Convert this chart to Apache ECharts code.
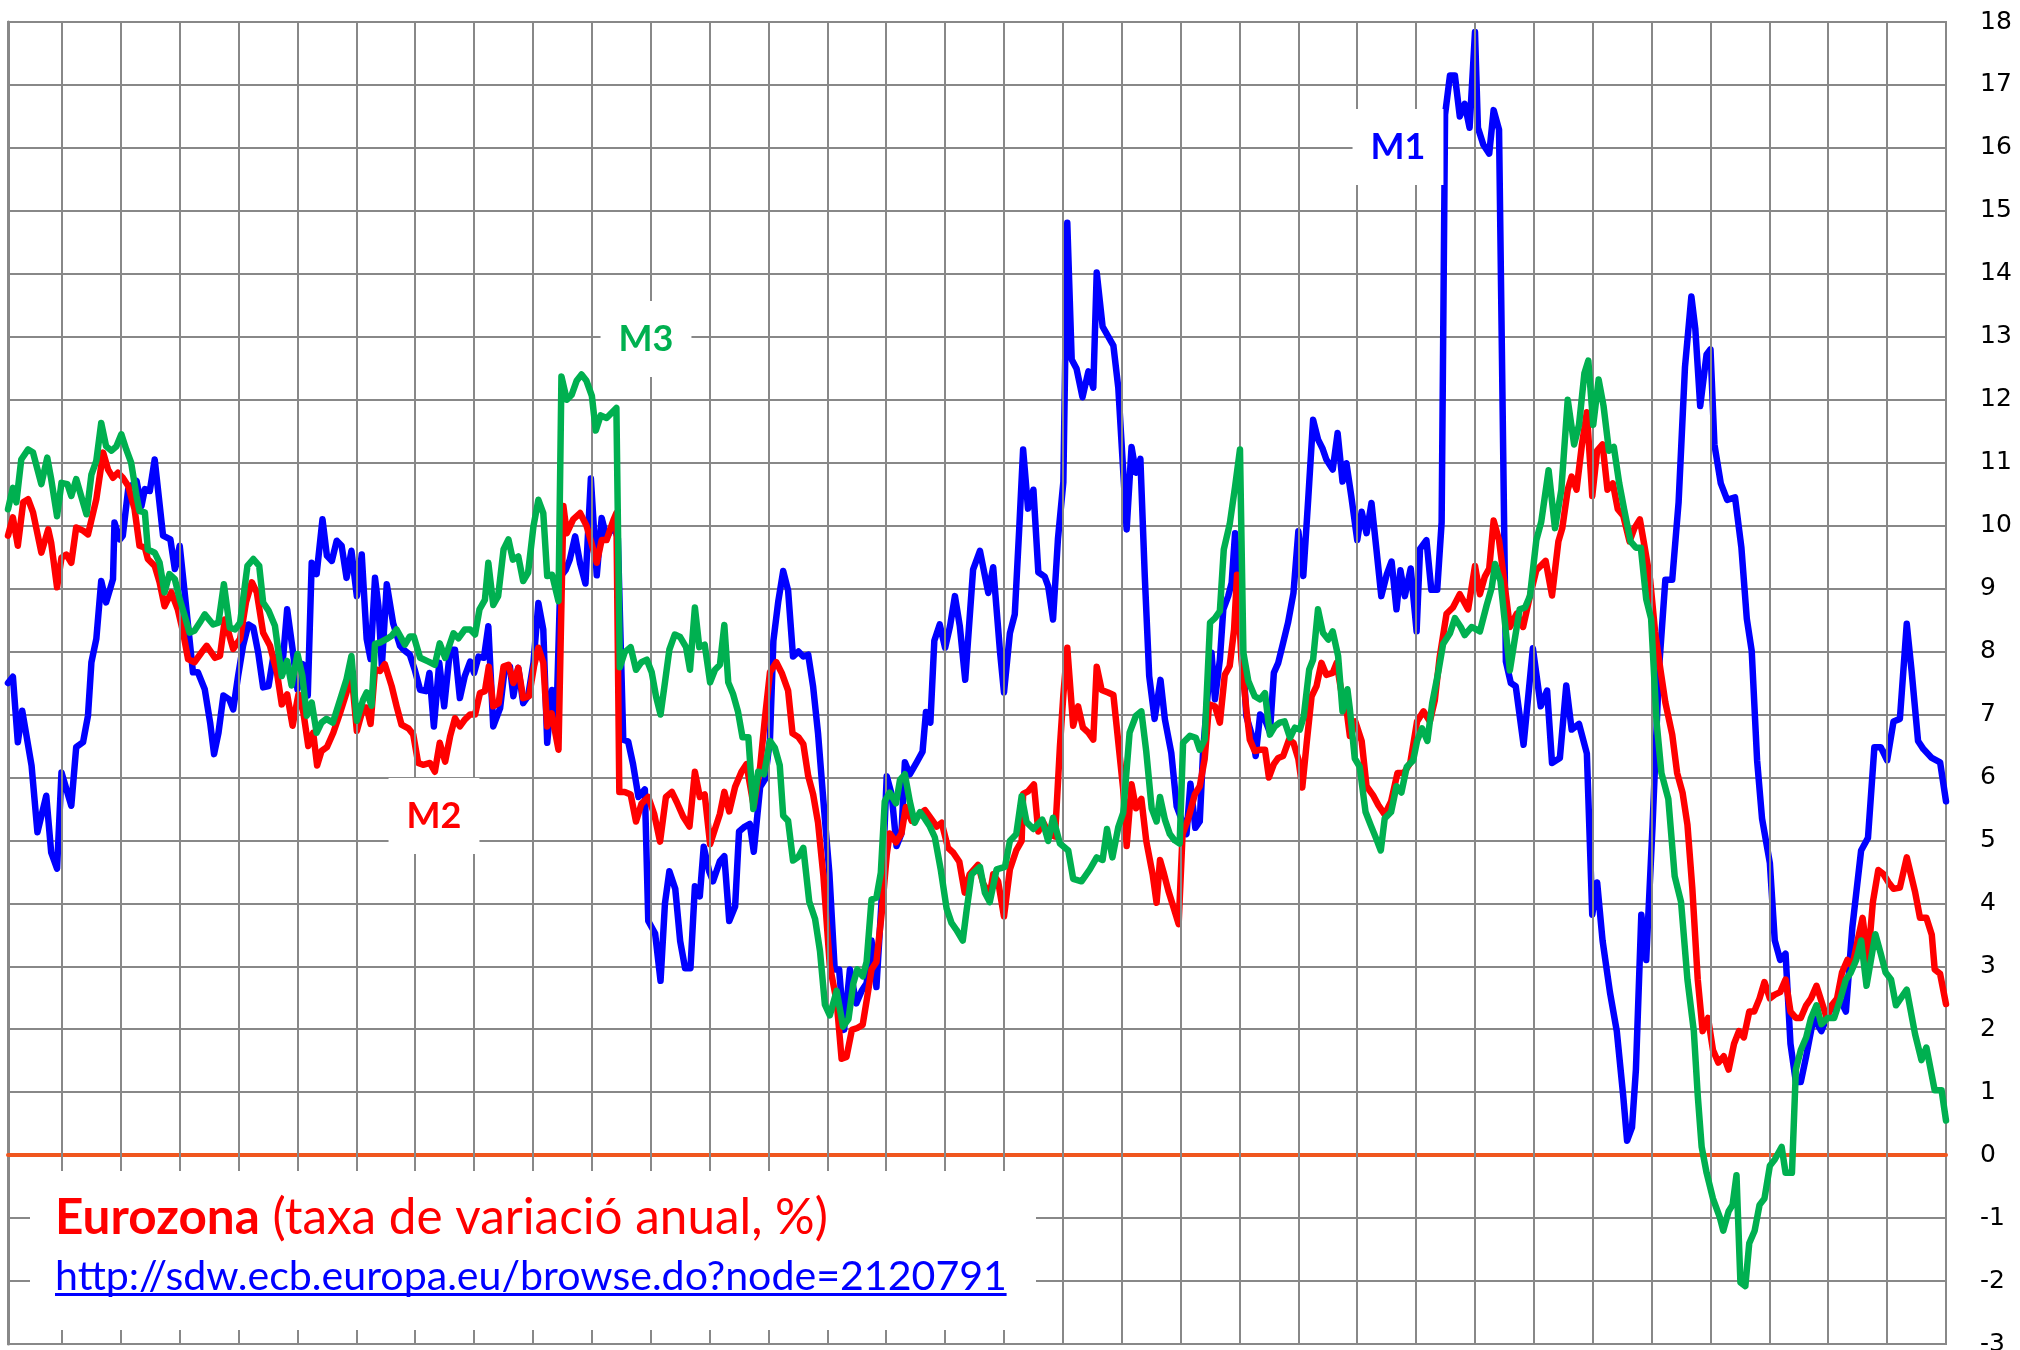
<!DOCTYPE html>
<html><head><meta charset="utf-8">
<script src="https://cdn.jsdelivr.net/npm/echarts/dist/echarts.min.js"></script>
<style>html,body{margin:0;padding:0;background:#fff;overflow:hidden}#c{width:2020px;height:1350px}</style>
</head><body><div id="c"></div>
<script>
// months counted from the first observation; vertical grid every 12 months
const yearTicks = [11,23,35,47,59,71,83,95,107,119,131,143,155,167,179,191,203,215,227,239,251,263,275,287,299,311,323,335,347,359,371,383];

// M1 annual growth rate, [month, %]
const m1Data = [[0,7.5],[1,7.6],[2,6.56],[2.9,7.06],[4.8,6.19],[6,5.13],[7.8,5.71],[8.8,4.81],[10,4.55],[10.9,6.08],[12.9,5.55],[13.9,6.48],[15.3,6.56],[16.3,6.98],[17,7.83],[18,8.2],[19,9.12],[20,8.78],[21.4,9.15],[21.7,10.05],[22.8,9.78],[23.4,9.84],[24.5,10.58],[26.2,10.71],[27.2,10.31],[27.9,10.58],[28.9,10.55],[29.9,11.05],[31.6,9.84],[33.1,9.78],[34,9.31],[35,9.68],[36,8.94],[37.7,7.67],[38.7,7.67],[40.1,7.4],[41.2,6.87],[42,6.37],[42.9,6.71],[43.9,7.3],[45.1,7.24],[45.9,7.08],[46.9,7.61],[47.9,8.09],[49,8.43],[50,8.38],[51,7.98],[52,7.43],[53.1,7.45],[54.1,7.93],[55.1,7.67],[56.1,7.93],[56.9,8.67],[58,8.04],[59,7.4],[60.1,7.8],[61.1,7.3],[61.9,9.41],[62.9,9.23],[64.1,10.1],[65,9.52],[66,9.44],[67,9.76],[68,9.68],[69,9.17],[70,9.6],[71.1,8.88],[72.1,9.54],[73.1,8.2],[73.9,7.88],[74.8,9.17],[75.5,8.72],[76.2,7.77],[77.2,9.07],[78.5,8.45],[79.9,8.09],[80.6,8.03],[81.9,7.95],[82.9,7.71],[84,7.39],[85.2,7.37],[85.9,7.66],[86.8,6.81],[87.9,7.82],[88.9,7.13],[90.1,8.03],[91.1,8.03],[92.1,7.26],[93.1,7.61],[94.2,7.84],[95,7.66],[95.9,7.92],[97,7.9],[97.9,8.4],[98.9,6.81],[100.3,7.1],[101.3,7.76],[102.3,7.76],[103,7.29],[104,7.74],[105,7.18],[106,7.29],[107.1,7.82],[108.1,8.77],[109.1,8.35],[109.9,6.55],[110.9,7.39],[111.8,6.97],[112.6,9.19],[113.7,9.3],[114.5,9.46],[115.6,9.83],[116.6,9.4],[117.7,9.08],[118.8,10.75],[120,9.21],[121,10.12],[122,9.81],[123.4,10.0],[124.3,9.8],[125.4,6.6],[126.4,6.57],[127.4,6.21],[128.5,5.69],[129.8,5.81],[130.5,3.72],[131.9,3.52],[133,2.77],[133.9,4.0],[134.8,4.51],[136,4.23],[137,3.4],[138,2.97],[139.1,2.97],[140,4.27],[141,4.11],[141.8,4.9],[142.9,4.51],[143.7,4.35],[145.1,4.67],[146,4.75],[147,3.72],[148.2,3.95],[149,5.14],[150.2,5.22],[151.2,5.26],[152,4.82],[153.3,5.85],[154.3,5.97],[155.3,6.6],[156,8.17],[157,8.8],[158,9.28],[159,8.97],[160,7.92],[161.1,8.0],[162.1,7.92],[163.1,7.95],[164.1,7.44],[165.1,6.7],[166.2,5.62],[167.4,4.49],[168.5,2.95],[169.4,2.95],[170.4,1.99],[171.6,2.95],[172.9,2.41],[174,2.61],[175,2.73],[176,3.41],[177,2.67],[178,3.97],[179.1,6.02],[180.1,5.73],[181.1,4.91],[182.1,5.11],[182.8,6.24],[183.8,6.05],[185.2,6.24],[186.4,6.41],[187.1,7.04],[188,6.87],[188.8,8.17],[189.9,8.43],[191,8.06],[192,8.4],[193,8.88],[194,8.4],[195.1,7.55],[196.7,9.3],[198.1,9.6],[199.8,8.93],[200.8,9.34],[202.2,7.99],[203,7.35],[204.2,8.29],[205.2,8.59],[206.1,9.94],[206.9,11.21],[207.9,10.27],[209,10.57],[210,9.26],[211.3,9.19],[212,9.04],[213,8.51],[214,9.79],[215.1,10.69],[215.9,14.81],[216.8,12.64],[217.8,12.49],[219,12.04],[220.2,12.45],[221.2,12.19],[221.9,14.02],[223.1,13.16],[224.2,13.01],[225.3,12.86],[226.3,12.19],[228,9.94],[229,11.25],[229.9,10.84],[230.8,11.06],[231.7,9.19],[232.6,7.61],[233.7,6.93],[234.9,7.55],[235.8,6.92],[237.1,6.39],[238.2,5.54],[239.2,5.33],[240.2,5.1],[241,5.9],[242,5.2],[242.9,5.3],[243.6,6.44],[244.6,7.4],[245.3,7.98],[246,7.24],[247,7.87],[247.7,8.67],[248.7,8.88],[249.4,9.09],[250.1,9.88],[250.7,9.25],[252.4,6.97],[253.8,6.6],[254.3,6.34],[255.2,7.0],[256.2,6.92],[257.2,6.71],[258,7.66],[258.9,7.82],[259.9,8.14],[260.9,8.46],[262,8.93],[263,9.91],[264,9.2],[265,10.41],[266,11.68],[267,11.37],[267.9,11.23],[268.7,11.05],[270,10.89],[271,11.47],[272,10.7],[272.8,10.99],[273.8,10.46],[275,9.77],[275.9,10.22],[276.9,9.88],[277.9,10.36],[278.9,9.63],[279.9,8.88],[281,9.22],[282,9.43],[283,8.67],[283.8,9.29],[284.7,8.88],[285.9,9.32],[287.1,8.32],[287.8,9.63],[289.1,9.77],[290.1,8.98],[291.3,8.98],[292.2,10.05],[292.9,16.53],[293.9,17.15],[294.9,17.15],[295.9,16.5],[296.9,16.7],[297.9,16.32],[299,17.84],[299.6,16.32],[300.7,16.05],[301.9,15.91],[302.8,16.6],[303.9,16.29],[305.3,7.84],[306.3,7.5],[307.3,7.45],[308.9,6.52],[310.8,8.05],[312.4,7.13],[313.7,7.38],[314.7,6.23],[316.3,6.31],[317.6,7.46],[318.7,6.76],[320.2,6.85],[321.8,6.38],[322.9,3.82],[323.9,4.33],[325,3.41],[326.5,2.59],[327.9,1.97],[329.2,0.95],[330,0.23],[331,0.44],[331.8,1.36],[332.9,3.82],[333.9,3.1],[335.2,5.25],[336.5,7.71],[337.8,9.14],[339.2,9.14],[340.5,10.37],[341.8,12.52],[343.1,13.64],[343.9,13.13],[344.9,11.9],[346.2,12.72],[347,12.8],[347.8,11.29],[349.1,10.67],[350.4,10.41],[352,10.45],[353.3,9.65],[354.4,8.52],[355.4,8.01],[356.5,6.27],[357.5,5.35],[359.1,4.64],[360.1,3.41],[361.2,3.1],[362.3,3.2],[363.3,1.77],[364.4,1.16],[365.4,1.16],[366.5,1.57],[368,2.18],[369.6,1.97],[371.2,2.28],[373.3,2.49],[374.6,2.28],[375.9,3.61],[377.7,4.84],[379.1,5.04],[380.4,6.48],[381.7,6.48],[383,6.27],[384.3,6.89],[385.6,6.93],[387,8.44],[388,7.68],[389.3,6.58],[390.4,6.45],[392.1,6.31],[393.8,6.24],[395,5.62]];

// M2 annual growth rate, [month, %]
const m2Data = [[0,9.84],[1,10.13],[2,9.68],[3.1,10.37],[4.1,10.42],[5.1,10.21],[6.8,9.57],[8.2,9.94],[8.8,9.73],[10,9.02],[10.9,9.49],[11.9,9.54],[12.9,9.41],[13.9,9.97],[15.3,9.92],[16.3,9.86],[18,10.42],[19.4,11.16],[20.4,10.89],[21.4,10.76],[22.4,10.84],[23.4,10.76],[24.5,10.63],[25.8,10.26],[26.8,9.68],[27.9,9.65],[28.5,9.47],[29.9,9.36],[30.9,9.1],[31.9,8.72],[33.3,8.94],[34.6,8.67],[35.7,8.3],[36.7,7.88],[38,7.83],[39.4,7.98],[40.5,8.09],[42.2,7.9],[43.2,7.93],[44.2,8.51],[45.9,8.04],[47.3,8.2],[48.5,8.78],[49.7,9.1],[50.7,8.94],[52,8.3],[53.4,8.09],[54.8,7.67],[55.8,7.16],[56.9,7.32],[58,6.82],[59.2,7.32],[60.2,7.03],[61.2,6.5],[62.2,6.71],[63,6.19],[63.9,6.42],[65,6.48],[66.3,6.71],[67.7,7.03],[69,7.35],[70,7.67],[71.1,6.74],[72.4,7.11],[73.1,7.11],[73.9,6.85],[74.8,7.72],[75.8,7.69],[76.8,7.8],[78.2,7.45],[79.3,7.1],[80.2,6.84],[81.6,6.78],[82.6,6.68],[83.6,6.23],[84.6,6.2],[86,6.23],[87,6.09],[88,6.55],[89.1,6.25],[90.1,6.65],[91.1,6.94],[92.1,6.81],[93.1,6.92],[94.2,7.0],[95.2,7.0],[96.2,7.34],[97.2,7.37],[98,7.76],[98.9,7.13],[100,7.18],[101,7.76],[102,7.79],[103,7.5],[104,7.74],[105,7.26],[106.2,7.29],[107.2,7.76],[108.1,8.06],[109.1,7.82],[109.9,6.81],[110.8,7.02],[112.2,6.44],[113.2,10.31],[113.9,9.88],[115.2,10.1],[116.6,10.2],[117.9,10.0],[118.9,9.73],[120,9.41],[121,9.77],[122,9.77],[123.4,10.09],[124,10.2],[124.6,5.77],[125.7,5.77],[126.9,5.73],[128,5.3],[129.1,5.58],[130.5,5.69],[131.7,5.42],[132.9,4.98],[134.1,5.69],[135.3,5.77],[136.3,5.61],[137.6,5.38],[138.9,5.22],[140,6.09],[141,5.69],[142,5.73],[143.1,4.94],[144.1,5.18],[145.1,5.42],[146,5.77],[147,5.46],[148.2,5.85],[149.5,6.09],[150.5,6.21],[152,5.54],[153.3,6.17],[154.3,6.96],[155.3,7.67],[156.6,7.83],[157.7,7.66],[159,7.38],[159.9,6.7],[161.1,6.64],[162.1,6.53],[163.1,6.02],[164.1,5.73],[165.1,5.28],[166.2,4.43],[167.5,3.01],[168.9,2.44],[169.9,1.53],[170.9,1.56],[172,1.99],[173.1,2.02],[174.2,2.07],[175.1,2.5],[176,2.95],[177,3.07],[178.1,3.86],[179.1,4.77],[179.7,5.11],[181,4.97],[182.1,5.11],[183,5.53],[184.2,5.31],[185.9,5.42],[186.9,5.48],[188,5.36],[189.3,5.22],[190.3,5.28],[191.6,4.88],[192.7,4.8],[193.9,4.66],[195,4.17],[196,4.46],[197.7,4.61],[198.8,4.31],[200.1,4.13],[200.8,4.46],[201.8,4.35],[203,3.79],[204.2,4.54],[205.5,4.84],[206.6,4.99],[206.9,5.74],[207.9,5.78],[209.1,5.89],[210,5.14],[211,5.29],[212.2,5.1],[213.4,5.06],[214.4,6.49],[215.1,7.31],[215.9,8.06],[217.1,6.82],[218.1,7.13],[219.1,6.79],[220.2,6.71],[221.2,6.6],[221.9,7.76],[222.9,7.39],[224.2,7.35],[225.3,7.31],[225.9,6.86],[227.3,5.81],[228,4.91],[229,5.89],[229.9,5.51],[231,5.66],[232,4.99],[233.3,4.46],[234.1,4.01],[234.8,4.69],[235.5,4.5],[236.5,4.2],[237.5,3.95],[238.6,3.67],[239.4,5.1],[240.5,5.33],[241.9,5.73],[242.9,5.86],[243.9,6.29],[244.8,7.16],[246,7.13],[247,6.87],[248,7.63],[249,7.77],[249.9,8.35],[250.5,9.22],[251.4,7.87],[252.4,7.08],[253.1,6.6],[254.1,6.42],[255.2,6.44],[256.2,6.44],[257,6.0],[258,6.21],[258.9,6.31],[259.9,6.34],[261.1,6.6],[262,6.55],[263,6.29],[263.8,5.84],[264.7,6.55],[265.7,7.29],[266.7,7.45],[267.7,7.82],[268.7,7.63],[270,7.66],[270.8,7.82],[271.8,7.34],[272.8,7.08],[273.5,6.66],[274.6,6.89],[275.9,6.58],[276.9,5.86],[278.2,5.72],[279.3,5.56],[280.6,5.41],[281.9,5.62],[283.2,6.07],[284.5,6.07],[285.8,6.23],[287.2,6.89],[288.5,7.05],[289.8,6.89],[290.8,7.22],[291.8,7.91],[293.2,8.6],[294.5,8.7],[295.9,8.91],[297.6,8.67],[299,9.36],[300,8.91],[301,9.19],[301.9,9.32],[302.8,10.08],[303.9,9.77],[304.9,9.15],[306.1,8.39],[307.5,8.6],[308.8,8.39],[310.2,8.88],[311.5,9.29],[313.4,9.44],[314.7,8.89],[316,9.75],[316.8,9.96],[317.9,10.57],[318.7,10.78],[319.7,10.57],[320.8,11.29],[321.8,11.8],[322.9,10.47],[323.9,11.19],[325,11.29],[326,10.57],[327.1,10.67],[328.1,10.26],[329.2,10.16],[330.5,9.75],[331.5,9.96],[332.6,10.1],[333.6,9.65],[334.7,9.14],[335.7,8.32],[336.8,7.71],[337.8,7.19],[339.2,6.68],[340.2,6.07],[341.3,5.76],[342.3,5.25],[343.3,4.23],[344.4,2.79],[345.4,1.97],[346.5,2.18],[347.5,1.67],[348.6,1.47],[349.7,1.57],[350.7,1.36],[351.8,1.77],[352.8,1.97],[353.8,1.87],[354.9,2.28],[355.9,2.28],[357,2.49],[358,2.75],[359.1,2.49],[360.1,2.55],[361.2,2.59],[362.3,2.79],[363.3,2.28],[364.4,2.18],[365.4,2.18],[366.5,2.38],[367.5,2.49],[368.6,2.69],[370.7,2.18],[371.7,2.38],[372.8,2.49],[373.8,2.9],[374.9,3.1],[375.9,3.0],[377,3.41],[378,3.77],[379.1,3.1],[380.1,4.02],[381.2,4.53],[382.2,4.47],[383.3,4.33],[384.3,4.23],[385.6,4.25],[387,4.73],[388.7,4.18],[389.7,3.77],[391,3.77],[392.1,3.5],[392.7,2.95],[393.8,2.88],[395,2.4]];

// M3 annual growth rate, [month, %]
const m3Data = [[0,10.26],[1,10.6],[1.7,10.37],[2.7,11.05],[4.1,11.21],[5.1,11.16],[6.8,10.66],[8,11.08],[8.8,10.74],[10,10.15],[10.9,10.68],[12.1,10.66],[12.9,10.47],[13.9,10.74],[16,10.18],[17,10.81],[18,11.03],[19,11.63],[20,11.26],[21.1,11.19],[22.1,11.26],[23.1,11.45],[24.1,11.21],[25.1,11.0],[26.2,10.47],[26.8,10.23],[27.9,10.21],[28.5,9.62],[29.9,9.57],[30.9,9.41],[31.9,8.94],[32.9,9.23],[34,9.15],[35,8.83],[36,8.57],[37,8.3],[38,8.33],[39.1,8.46],[40.1,8.59],[41.8,8.43],[42.9,8.46],[44,9.07],[45.2,8.38],[46.3,8.35],[47.3,8.46],[48.8,9.36],[50,9.47],[51.2,9.36],[52,8.78],[53.1,8.65],[54.4,8.41],[55.8,7.61],[56.9,7.85],[57.8,7.46],[59,7.96],[60,7.61],[60.9,6.98],[61.9,7.19],[62.9,6.71],[63.9,6.87],[64.9,6.93],[66.2,6.87],[67.3,7.14],[69,7.56],[70,7.93],[71.1,6.9],[72.4,7.24],[73.1,7.35],[74.1,7.14],[74.8,8.12],[75.8,8.14],[77.2,8.2],[78.2,8.25],[79.2,8.35],[80.9,8.11],[81.9,8.24],[82.7,8.24],[84,7.9],[85.7,7.84],[87,7.79],[88,8.13],[89.1,7.9],[90.8,8.29],[91.8,8.21],[93.1,8.35],[94.2,8.35],[95.2,8.27],[96.1,8.67],[97.2,8.82],[97.9,9.41],[98.9,8.74],[99.9,8.88],[101,9.62],[102,9.78],[102.9,9.46],[104,9.51],[105,9.12],[106,9.25],[107.1,9.99],[108.1,10.41],[109.1,10.2],[109.9,9.2],[110.9,9.22],[112.2,8.8],[112.8,12.37],[113.9,12.0],[114.9,12.08],[115.9,12.3],[116.9,12.4],[117.9,12.3],[119,12.06],[119.8,11.51],[120.8,11.75],[122,11.71],[123,11.79],[124,11.87],[124.7,7.75],[125.7,7.99],[126.9,8.07],[128,7.71],[129.1,7.83],[130.2,7.87],[131.2,7.67],[132.1,7.28],[133,7.0],[133.9,7.51],[134.8,8.03],[135.9,8.27],[137,8.23],[138.2,8.07],[139,7.71],[140,8.7],[140.9,8.07],[142,8.11],[143.1,7.51],[144.1,7.71],[145.1,7.79],[146,8.42],[146.8,7.51],[147.8,7.32],[148.8,7.04],[149.7,6.64],[150.9,6.64],[151.9,5.5],[152.9,6.09],[154.1,6.05],[155.3,6.58],[156.3,6.47],[157.3,6.19],[158,5.39],[159,5.31],[160,4.68],[161.1,4.74],[162.1,4.88],[163.3,4.03],[164.5,3.75],[165.5,3.24],[166.5,2.39],[167.5,2.22],[168.9,2.61],[170.2,2.04],[171.3,2.16],[172.3,2.73],[173.1,2.95],[174.2,2.84],[175,3.07],[176,4.06],[177,4.09],[177.9,4.49],[178.7,5.62],[179.7,5.76],[181,5.59],[181.8,5.96],[182.8,6.05],[183.8,5.62],[184.8,5.28],[185.9,5.45],[186.9,5.34],[187.9,5.22],[188.9,5.05],[190.1,4.54],[191.3,3.92],[192.3,3.69],[193.3,3.58],[194.6,3.41],[195.4,3.9],[196.4,4.46],[198.1,4.58],[199.1,4.17],[200.1,4.02],[201.5,4.54],[203.2,4.58],[204.2,4.99],[205.5,5.1],[206.6,5.7],[207.6,5.29],[209,5.18],[210.8,5.33],[212,4.99],[213,5.36],[214.4,4.95],[216.1,4.84],[217.1,4.39],[218.8,4.35],[220.5,4.54],[221.9,4.73],[223.1,4.69],[224,5.18],[225.1,4.73],[226.3,5.21],[227.3,5.44],[228.6,6.71],[229.9,6.98],[231,7.05],[232,6.41],[233.1,5.51],[234.1,5.3],[234.8,5.69],[235.8,5.33],[236.8,5.1],[237.8,5.0],[238.8,4.95],[239.5,6.55],[240.9,6.66],[242.1,6.63],[242.9,6.44],[243.9,6.6],[245,8.46],[246,8.53],[247,8.64],[247.8,9.62],[249,10.02],[250.1,10.62],[251.1,11.21],[251.8,7.98],[252.8,7.53],[254.1,7.29],[255.2,7.24],[256.2,7.34],[257.2,6.68],[258.2,6.81],[259.2,6.87],[260.2,6.89],[261.3,6.63],[262.3,6.79],[263.3,6.76],[264.1,6.97],[265.2,7.71],[266,7.87],[267,8.67],[268,8.3],[269.1,8.19],[270,8.32],[271.1,7.93],[272,7.05],[273,7.4],[273.5,7.08],[274.5,6.3],[275.5,6.17],[276.7,5.45],[277.7,5.25],[278.8,5.04],[279.8,4.84],[280.6,5.35],[281.9,5.45],[283,5.86],[284,5.76],[285.1,6.17],[286.4,6.27],[287.2,6.58],[288.2,6.78],[289.3,6.58],[290.3,7.19],[291.6,7.71],[292.5,8.12],[293.9,8.29],[294.9,8.53],[296.1,8.39],[296.9,8.26],[298.3,8.39],[300,8.32],[301.4,8.74],[302.4,9.01],[303.1,9.39],[304.2,9.12],[305.1,8.46],[306.1,7.7],[307.1,8.19],[308.1,8.67],[309.2,8.7],[310.2,8.88],[311.5,9.77],[312.5,10.06],[314,10.88],[315.3,9.96],[316.6,10.57],[317.9,12.0],[319.2,11.29],[320.2,11.6],[321.3,12.42],[322.1,12.62],[323.1,11.6],[324.2,12.32],[325.2,11.9],[326.3,11.19],[327.3,11.25],[328.4,10.67],[329.4,10.26],[330.7,9.75],[331.8,9.65],[332.8,9.65],[333.9,8.83],[334.9,8.52],[336,6.89],[337,6.07],[338.4,5.66],[339.7,4.43],[341,4.02],[342.3,2.79],[343.6,1.97],[344.4,0.95],[345.2,0.13],[346.2,-0.28],[347.5,-0.69],[348.9,-0.99],[349.6,-1.2],[350.7,-0.89],[351.5,-0.79],[352.3,-0.32],[353.1,-2.02],[354.1,-2.08],[354.9,-1.4],[356,-1.2],[357,-0.79],[358,-0.69],[359.1,-0.17],[360.1,-0.07],[361.5,0.13],[362.3,-0.28],[363.6,-0.28],[364.4,1.36],[365.4,1.67],[366.5,1.87],[367.5,2.18],[368.6,2.38],[369.6,2.08],[370.9,2.18],[372.2,2.18],[373.5,2.49],[374.6,2.79],[375.6,2.9],[376.7,3.1],[377.7,3.41],[378.8,2.69],[380.6,3.51],[381.7,3.2],[382.7,2.9],[383.8,2.79],[384.8,2.38],[385.6,2.47],[387,2.63],[388.7,1.92],[390,1.51],[391,1.71],[392.7,1.03],[394.1,1.03],[395,0.55]];

const seriesNames = ['M1', 'M2', 'M3'];
const titleBold = 'Eurozona';
const titleRest = ' (taxa de variació anual, %)';
const sourceUrl = 'http://sdw.ecb.europa.eu/browse.do?node=2120791';

const colors = {M1: '#0000FF', M2: '#FF0000', M3: '#00B050'};
const gridColor = '#888888';

const mctx = document.createElement('canvas').getContext('2d');
function textW(t, weight, size, fam) { mctx.font = weight + ' ' + size + 'px ' + fam; return mctx.measureText(t).width; }
const FAM = 'Lato';
const titleSize = 100 * 773 / (textW(titleBold, 'bold', 100, FAM) + textW(titleRest, 'normal', 100, FAM));
const urlSize = 100 * 952 / textW(sourceUrl, 'normal', 100, FAM);
const boldW = textW(titleBold, 'bold', titleSize, FAM);
const urlW = textW(sourceUrl, 'normal', urlSize, FAM);

const chart = echarts.init(document.getElementById('c'));

function lineSeries(name, data, z) {
  return {
    name: name, type: 'line', data: data, showSymbol: false, symbol: 'none',
    z: z, animation: false, silent: true,
    lineStyle: {color: colors[name], width: 6.5, join: 'round', cap: 'round'},
    itemStyle: {color: colors[name]}
  };
}

function seriesLabel(text, x, y, color) {
  return {
    type: 'text', z: 20, x: x, y: y,
    style: {
      text: text, fill: color, font: 'bold 36px ' + FAM,
      align: 'center', verticalAlign: 'middle',
      backgroundColor: '#ffffff', padding: [20, 18]
    }
  };
}

chart.setOption({
  backgroundColor: '#ffffff',
  animation: false,
  grid: {left: 8, right: 74, top: 22, bottom: 6, containLabel: false, outerBoundsMode: 'none',
         show: true, borderColor: gridColor, borderWidth: 2, backgroundColor: 'transparent'},
  xAxis: {
    type: 'value', min: 0, max: 395, z: 1,
    axisLine: {show: true, onZero: true, lineStyle: {color: '#F0561E', width: 4}},
    axisTick: {show: false}, axisLabel: {show: false}, splitLine: {show: false}
  },
  yAxis: {
    type: 'value', position: 'right', min: -3, max: 18, interval: 1,
    axisLine: {show: true, lineStyle: {color: gridColor, width: 3}},
    axisTick: {show: true, length: 12, lineStyle: {color: gridColor, width: 2}},
    axisLabel: {show: true, margin: 34, color: '#000', fontSize: 25, fontFamily: 'DejaVu Sans'},
    splitLine: {show: true, lineStyle: {color: gridColor, width: 2}}
  },
  series: [
    {
      type: 'line', data: [], z: 0, silent: true, animation: false,
      markLine: {
        silent: true, symbol: 'none', animation: false,
        label: {show: false},
        lineStyle: {color: gridColor, width: 2, type: 'solid'},
        data: yearTicks.map(v => ({xAxis: v}))
      }
    },
    lineSeries('M1', m1Data, 3),
    lineSeries('M2', m2Data, 4),
    lineSeries('M3', m3Data, 5)
  ],
  graphic: [
    {type: 'rect', z: 10, shape: {x: 30, y: 1171, width: 1006, height: 159}, style: {fill: '#ffffff'}},
    {type: 'text', z: 11, x: 55, y: 1218, style: {text: titleBold, fill: '#FF0000', font: 'bold ' + titleSize.toFixed(2) + 'px ' + FAM, align: 'left', verticalAlign: 'middle'}},
    {type: 'text', z: 11, x: 55 + boldW, y: 1218, style: {text: titleRest, fill: '#FF0000', font: 'normal ' + titleSize.toFixed(2) + 'px ' + FAM, align: 'left', verticalAlign: 'middle'}},
    {type: 'text', z: 11, x: 55, y: 1277, style: {text: sourceUrl, fill: '#0000FF', font: 'normal ' + urlSize.toFixed(2) + 'px ' + FAM, align: 'left', verticalAlign: 'middle'}},
    {type: 'rect', z: 11, shape: {x: 55, y: 1293, width: urlW, height: 3}, style: {fill: '#0000FF'}},
    seriesLabel(seriesNames[0], 1398, 147, colors.M1),
    seriesLabel(seriesNames[1], 434, 816, colors.M2),
    seriesLabel(seriesNames[2], 646, 339, colors.M3)
  ]
});
</script>
</body></html>
